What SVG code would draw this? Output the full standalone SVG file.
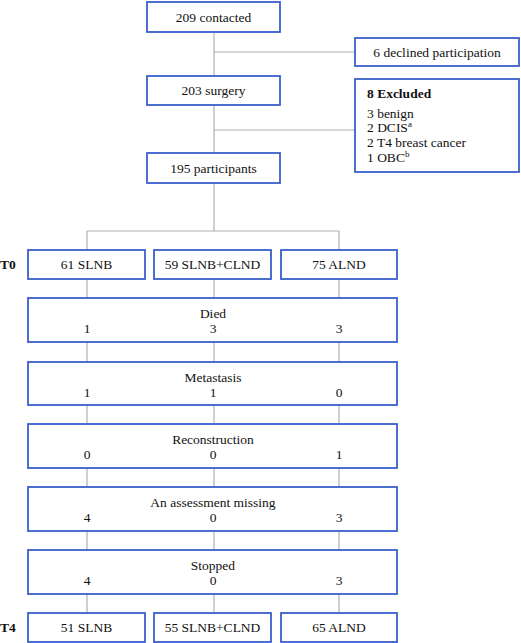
<svg xmlns="http://www.w3.org/2000/svg" width="521" height="643" viewBox="0 0 521 643">
<style>
.box{fill:#fff;stroke:#3a5fcd;stroke-width:1.8}
.ln{fill:none;stroke:#b0b0b0;stroke-width:1.2}
text{font-family:"Liberation Serif","Times New Roman",serif;font-size:13.5px;fill:#111}
.c{text-anchor:middle}
.b{font-weight:bold}
.sup{font-size:9px}
</style>
<rect width="521" height="643" fill="#fff"/>
<g id="connectors">
<path class="ln" d="M214 32V153M214 52H355M214 130H355M214 183V231M87 231H339M87 231V250M339 231V250"/>
<path class="ln" d="M87 279V298M214 279V298M339 279V298"/>
<path class="ln" d="M87 342V362M214 342V362M339 342V362"/>
<path class="ln" d="M87 405V424M214 405V424M339 405V424"/>
<path class="ln" d="M87 468V487M214 468V487M339 468V487"/>
<path class="ln" d="M87 531V550M214 531V550M339 531V550"/>
<path class="ln" d="M87 594V613M214 594V613M339 594V613"/>
</g>
<g id="contacted"><rect class="box" x="147" y="2" width="133" height="30"/><text class="c" x="213.5" y="21.5">209 contacted</text></g>
<g id="declined"><rect class="box" x="355" y="38" width="164" height="28"/><text class="c" x="437" y="56.5">6 declined participation</text></g>
<g id="surgery"><rect class="box" x="147" y="76" width="133" height="29"/><text class="c" x="213.5" y="95">203 surgery</text></g>
<g id="excluded"><rect class="box" x="355" y="79" width="164" height="93"/>
<text class="b" x="367" y="98">8 Excluded</text>
<text x="367" y="117.5">3 benign</text>
<text x="367" y="132">2 DCIS<tspan class="sup" dy="-5">a</tspan></text>
<text x="367" y="147">2 T4 breast cancer</text>
<text x="367" y="161.5">1 OBC<tspan class="sup" dy="-5">b</tspan></text>
</g>
<g id="participants"><rect class="box" x="147" y="153" width="133" height="30"/><text class="c" x="213.5" y="172.5">195 participants</text></g>
<g id="t0label"><text class="b" x="0" y="269">T0</text></g>
<g id="t0-slnb"><rect class="box" x="28" y="250" width="117" height="29"/><text class="c" x="86.5" y="269">61 SLNB</text></g>
<g id="t0-clnd"><rect class="box" x="154" y="250" width="117" height="29"/><text class="c" x="212.5" y="269">59 SLNB+CLND</text></g>
<g id="t0-alnd"><rect class="box" x="281" y="250" width="116" height="29"/><text class="c" x="339" y="269">75 ALND</text></g>
<g id="died"><rect class="box" x="28" y="298" width="369" height="44"/><text class="c" x="213" y="318">Died</text><text class="c" x="87" y="333">1</text><text class="c" x="213" y="333">3</text><text class="c" x="339" y="333">3</text></g>
<g id="metastasis"><rect class="box" x="28" y="362" width="369" height="43"/><text class="c" x="213" y="382">Metastasis</text><text class="c" x="87" y="397">1</text><text class="c" x="213" y="397">1</text><text class="c" x="339" y="397">0</text></g>
<g id="reconstruction"><rect class="box" x="28" y="424" width="369" height="44"/><text class="c" x="213" y="444">Reconstruction</text><text class="c" x="87" y="459">0</text><text class="c" x="213" y="459">0</text><text class="c" x="339" y="459">1</text></g>
<g id="missing"><rect class="box" x="28" y="487" width="369" height="44"/><text class="c" x="213" y="507">An assessment missing</text><text class="c" x="87" y="522">4</text><text class="c" x="213" y="522">0</text><text class="c" x="339" y="522">3</text></g>
<g id="stopped"><rect class="box" x="28" y="550" width="369" height="44"/><text class="c" x="213" y="570">Stopped</text><text class="c" x="87" y="585">4</text><text class="c" x="213" y="585">0</text><text class="c" x="339" y="585">3</text></g>
<g id="t4label"><text class="b" x="0" y="632">T4</text></g>
<g id="t4-slnb"><rect class="box" x="28" y="613" width="117" height="29"/><text class="c" x="86.5" y="632">51 SLNB</text></g>
<g id="t4-clnd"><rect class="box" x="154" y="613" width="117" height="29"/><text class="c" x="212.5" y="632">55 SLNB+CLND</text></g>
<g id="t4-alnd"><rect class="box" x="281" y="613" width="116" height="29"/><text class="c" x="339" y="632">65 ALND</text></g>
</svg>
